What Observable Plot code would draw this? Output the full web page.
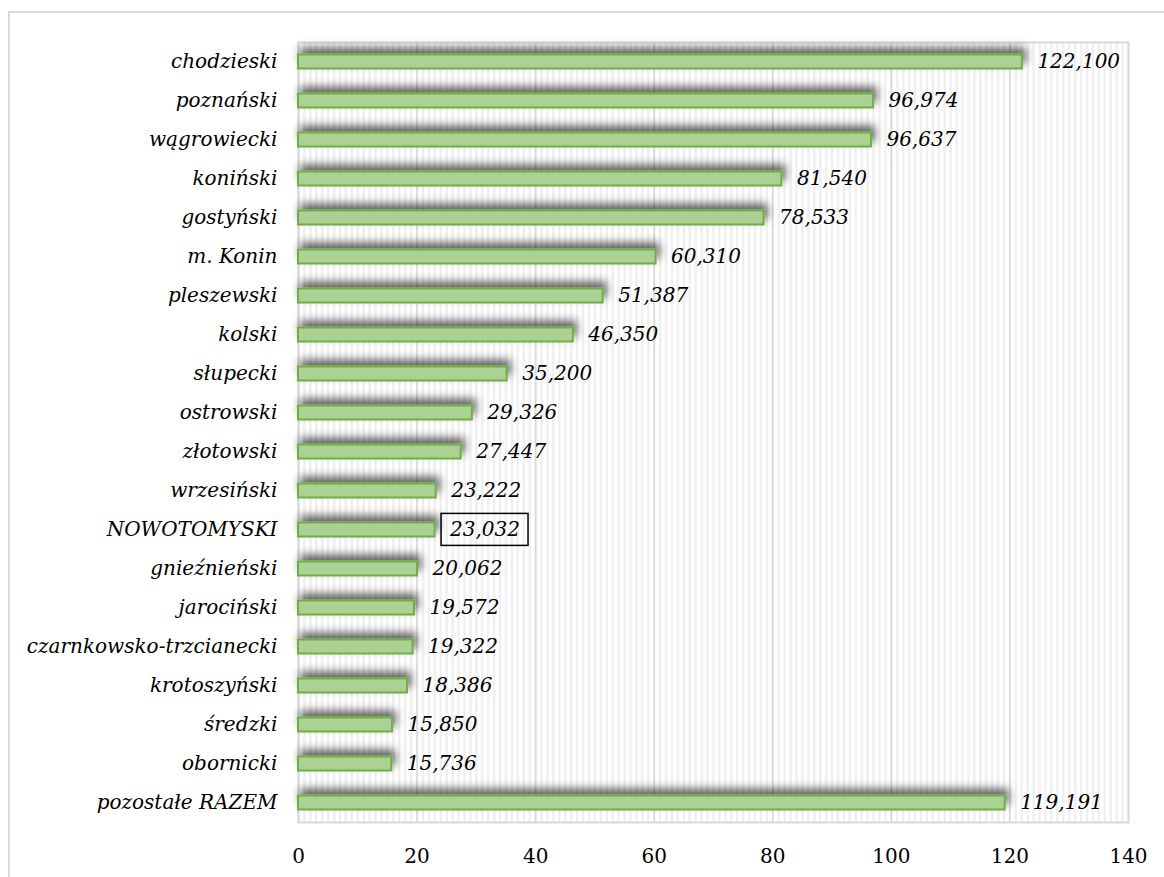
<!DOCTYPE html>
<html>
<head>
<meta charset="utf-8">
<script src="https://cdn.jsdelivr.net/npm/d3@7"></script>
<script src="https://cdn.jsdelivr.net/npm/@observablehq/plot@0.6"></script>
<style>
  html, body { margin: 0; padding: 0; background: #fff; overflow: hidden; }
  #wrap { position: relative; width: 1164px; height: 877px; }
  #outer { position: absolute; left: 8px; top: 11px; width: 1200px; height: 900px;
           border: 2px solid #d9d9d9; pointer-events: none; box-sizing: border-box; }
</style>
</head>
<body>
<div id="wrap"><div id="outer"></div></div>
<script>
const categories = [
  "chodzieski", "poznański", "wągrowiecki", "koniński", "gostyński", "m. Konin",
  "pleszewski", "kolski", "słupecki", "ostrowski", "złotowski", "wrzesiński",
  "NOWOTOMYSKI", "gnieźnieński", "jarociński", "czarnkowsko-trzcianecki",
  "krotoszyński", "średzki", "obornicki", "pozostałe RAZEM"
];
const values = [
  122.100, 96.974, 96.637, 81.540, 78.533, 60.310,
  51.387, 46.350, 35.200, 29.326, 27.447, 23.222,
  23.032, 20.062, 19.572, 19.322,
  18.386, 15.850, 15.736, 119.191
];
const xTicks = [0, 20, 40, 60, 80, 100, 120, 140];
const highlighted = "NOWOTOMYSKI";

const data = categories.map((name, i) => ({name, value: values[i]}));
const fmt = v => v.toFixed(3).replace(".", ",");
const minorTicks = d3.range(0, 140, 1);

const chart = Plot.plot({
  width: 1164,
  height: 877,
  marginLeft: 298,
  marginRight: 36,
  marginTop: 42,
  marginBottom: 55,
  style: {fontFamily: "'DejaVu Serif', serif", fontSize: "20px", background: "transparent", color: "#000"},
  x: {domain: [0, 140]},
  y: {domain: categories, padding: 0},
  marks: [
    Plot.ruleX(minorTicks, {stroke: "#f0f0f0", strokeWidth: 2.5}),
    Plot.ruleX(xTicks, {stroke: "#d9d9d9", strokeWidth: 1.5}),
    Plot.frame({stroke: "#d9d9d9", strokeWidth: 2}),
    Plot.barX(data, {x: "value", y: "name", fill: "#acd293", stroke: "#70ad47", strokeWidth: 2,
                     insetTop: 12.5, insetBottom: 12.5}),
    Plot.text(data, {x: "value", y: "name", text: d => fmt(d.value), textAnchor: "start",
                     dx: 15, fontStyle: "italic", fontSize: 20, fill: "#000"}),
    Plot.axisY({tickSize: 0, tickPadding: 21, fontStyle: "italic", fontSize: 20, label: null}),
    Plot.axisX({ticks: xTicks, tickSize: 0, tickPadding: 26, fontSize: 20, label: null, tickFormat: d => String(d)})
  ]
});

document.getElementById("wrap").appendChild(chart);

// drop shadow on bars
const ns = "http://www.w3.org/2000/svg";
const defs = document.createElementNS(ns, "defs");
defs.innerHTML = `<filter id="barShadow" x="-10%" y="-20%" width="120%" height="140%">
  <feDropShadow dx="3" dy="-6" stdDeviation="4.5" flood-color="#000" flood-opacity="0.6"/>
</filter>`;
chart.insertBefore(defs, chart.firstChild);
const barGroup = chart.querySelector('g[aria-label="bar"]');
if (barGroup) barGroup.setAttribute("filter", "url(#barShadow)");

// box around highlighted value label
const textGroup = chart.querySelector('g[aria-label="text"]');
if (textGroup) {
  const idx = categories.indexOf(highlighted);
  const t = textGroup.querySelectorAll("text")[idx];
  if (t) {
    const bb = t.getBBox();
    const r = document.createElementNS(ns, "rect");
    r.setAttribute("x", bb.x - 8);
    r.setAttribute("y", bb.y - 4);
    r.setAttribute("width", bb.width + 16);
    r.setAttribute("height", bb.height + 8);
    r.setAttribute("fill", "none");
    r.setAttribute("stroke", "#000");
    r.setAttribute("stroke-width", "1.5");
    const tr = t.getAttribute("transform");
    if (tr) r.setAttribute("transform", tr);
    t.parentNode.appendChild(r);
  }
}
</script>
</body>
</html>
